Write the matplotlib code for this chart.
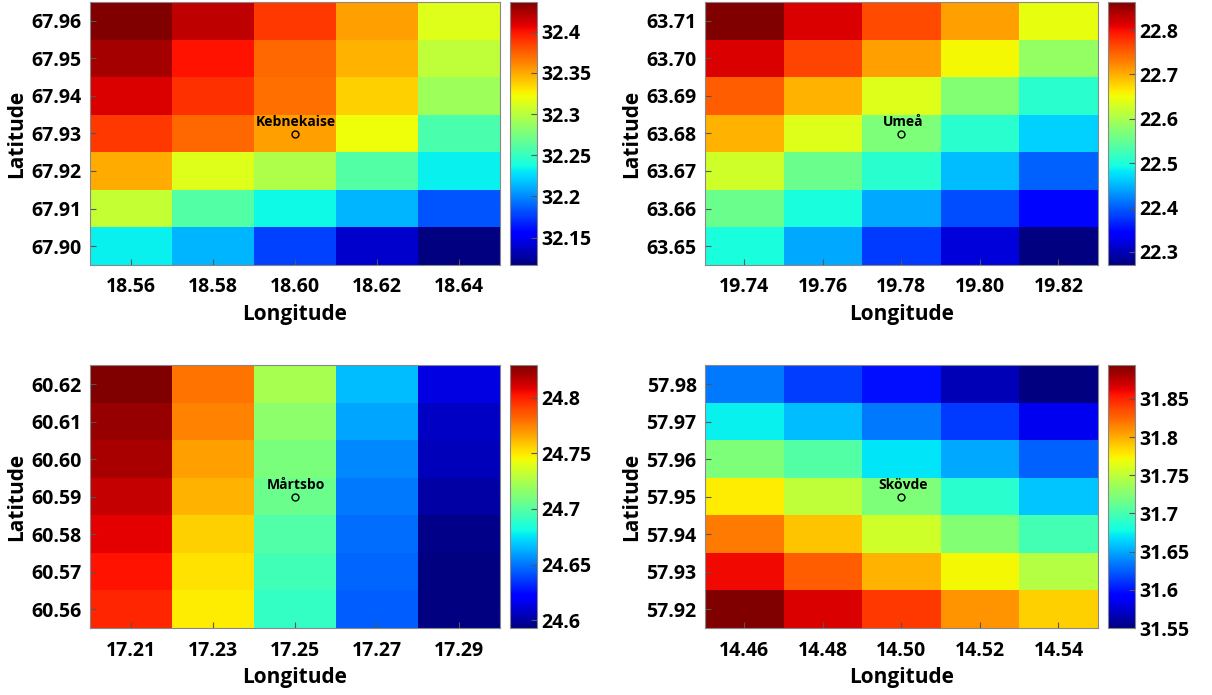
import numpy as np
import matplotlib
matplotlib.use("Agg")
import matplotlib.pyplot as plt

plt.rcParams['font.family'] = ['Open Sans', 'DejaVu Sans']
plt.rcParams['font.weight'] = 'bold'

# --- data (rows: latitude top -> bottom, cols: longitude left -> right) ---
keb_lon = [18.56, 18.58, 18.60, 18.62, 18.64]
keb_lat = [67.96, 67.95, 67.94, 67.93, 67.92, 67.91, 67.90]
keb_val = [[32.436, 32.418, 32.388, 32.353, 32.315],
           [32.426, 32.401, 32.372, 32.347, 32.302],
           [32.410, 32.391, 32.369, 32.337, 32.289],
           [32.388, 32.372, 32.353, 32.321, 32.257],
           [32.350, 32.315, 32.296, 32.261, 32.232],
           [32.305, 32.261, 32.235, 32.213, 32.184],
           [32.232, 32.213, 32.178, 32.139, 32.117]]
keb_ticks = [32.15, 32.2, 32.25, 32.3, 32.35, 32.4]

ume_lon = [19.74, 19.76, 19.78, 19.80, 19.82]
ume_lat = [63.71, 63.70, 63.69, 63.68, 63.67, 63.66, 63.65]
ume_val = [[22.863, 22.816, 22.762, 22.709, 22.644],
           [22.816, 22.768, 22.709, 22.653, 22.585],
           [22.751, 22.697, 22.638, 22.573, 22.508],
           [22.697, 22.638, 22.567, 22.508, 22.466],
           [22.626, 22.555, 22.508, 22.455, 22.401],
           [22.555, 22.496, 22.443, 22.389, 22.348],
           [22.496, 22.443, 22.378, 22.318, 22.271]]
ume_ticks = [22.3, 22.4, 22.5, 22.6, 22.7, 22.8]

mar_lon = [17.21, 17.23, 17.25, 17.27, 17.29]
mar_lat = [60.62, 60.61, 60.60, 60.59, 60.58, 60.57, 60.56]
mar_val = [[24.829, 24.779, 24.723, 24.666, 24.614],
           [24.824, 24.775, 24.716, 24.661, 24.607],
           [24.820, 24.768, 24.711, 24.654, 24.605],
           [24.815, 24.763, 24.706, 24.651, 24.601],
           [24.808, 24.756, 24.699, 24.648, 24.595],
           [24.803, 24.751, 24.694, 24.646, 24.593],
           [24.798, 24.748, 24.690, 24.644, 24.593]]
mar_ticks = [24.6, 24.65, 24.7, 24.75, 24.8]

sko_lon = [14.46, 14.48, 14.50, 14.52, 14.54]
sko_lat = [57.98, 57.97, 57.96, 57.95, 57.94, 57.93, 57.92]
sko_val = [[31.634, 31.614, 31.598, 31.567, 31.550],
           [31.674, 31.657, 31.634, 31.612, 31.584],
           [31.722, 31.705, 31.670, 31.650, 31.626],
           [31.777, 31.750, 31.722, 31.688, 31.660],
           [31.818, 31.791, 31.756, 31.725, 31.698],
           [31.860, 31.829, 31.798, 31.772, 31.746],
           [31.894, 31.866, 31.842, 31.808, 31.787]]
sko_ticks = [31.55, 31.6, 31.65, 31.7, 31.75, 31.8, 31.85]

sites = [("Kebnekaise", 18.60, 67.93, keb_lon, keb_lat, keb_val, keb_ticks),
         ("Umeå", 19.78, 63.68, ume_lon, ume_lat, ume_val, ume_ticks),
         ("Mårtsbo", 17.25, 60.59, mar_lon, mar_lat, mar_val, mar_ticks),
         ("Skövde", 14.50, 57.95, sko_lon, sko_lat, sko_val, sko_ticks)]

# [left, bottom, width, height] for heatmap and colorbar
ax_pos = [[0.0743, 0.619, 0.338, 0.378],
          [0.5817, 0.619, 0.324, 0.378],
          [0.0743, 0.0964, 0.338, 0.378],
          [0.5817, 0.0964, 0.324, 0.378]]
cb_pos = [[0.4208, 0.619, 0.022, 0.378],
          [0.9142, 0.619, 0.022, 0.378],
          [0.4208, 0.0964, 0.022, 0.378],
          [0.9142, 0.0964, 0.022, 0.378]]

fig = plt.figure(figsize=(12.12, 6.95), dpi=100)

for (name, slon, slat, lon, lat, val, cticks), p, cp in zip(sites, ax_pos, cb_pos):
    ax = fig.add_axes(p)
    cax = fig.add_axes(cp)
    z = np.array(val)
    mesh = ax.pcolormesh(lon, lat, z, cmap='jet', shading='nearest',
                         vmin=z.min(), vmax=z.max())
    ax.plot(slon, slat - 0.0002, 'o', ms=5, mfc='none', mec='black', mew=1)
    ax.annotate(name, (slon, slat), xytext=(1, 3), textcoords='offset points',
                ha='center', va='bottom', fontsize=10, fontweight='bold')
    ax.set_xticks(lon)
    ax.set_yticks(lat)
    ax.set_xticklabels([f"{v:.2f}" for v in lon])
    ax.set_yticklabels([f"{v:.2f}" for v in lat])
    ax.tick_params(direction='in', length=4, labelsize=14, color='#555555')
    ax.tick_params(axis='x', pad=9)
    ax.tick_params(axis='y', pad=6)
    ax.set_xlabel("Longitude", fontsize=15, fontweight='bold', labelpad=5)
    ax.set_ylabel("Latitude", fontsize=15, fontweight='bold', labelpad=3)
    for s in ax.spines.values():
        s.set_color('#888888')

    cb = fig.colorbar(mesh, cax=cax, ticks=cticks)
    cb.ax.set_yticklabels([f"{v:g}" for v in cticks])
    cb.ax.tick_params(direction='in', length=4, labelsize=14, color='#555555')
    cb.outline.set_edgecolor('#888888')

fig.savefig("out.png", dpi=100)
